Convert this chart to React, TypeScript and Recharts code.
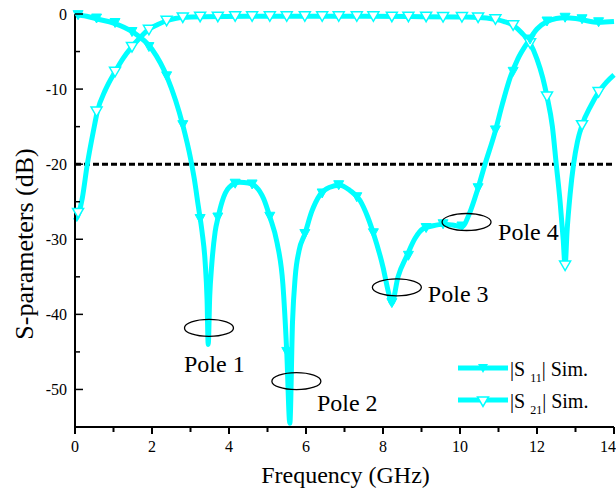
import React from 'react';
import { ComposedChart, Line, Scatter, XAxis, YAxis, ReferenceLine, ReferenceDot, Legend } from 'recharts';

const FONT = 'Liberation Serif, DejaVu Serif, serif';
const CYAN = '#00FFFF';
const TXT = { fontFamily: FONT } as React.CSSProperties;

// |S11| simulated curve
const s11Freq = [0, 0.3, 0.6, 1.0, 1.5, 2.0, 2.4, 2.8, 3.0, 3.1, 3.2, 3.3, 3.38, 3.43, 3.46, 3.5, 3.55, 3.64, 3.72, 3.82, 4.0, 4.28, 4.5, 4.7, 4.9, 5.06, 5.25, 5.4, 5.5, 5.58, 5.65, 5.72, 5.82, 5.97, 6.15, 6.36, 6.6, 6.88, 7.14, 7.4, 7.6, 7.75, 8.0, 8.13, 8.23, 8.39, 8.62, 8.83, 9.04, 9.3, 9.56, 9.8, 10.05, 10.25, 10.45, 10.65, 10.9, 11.1, 11.3, 11.5, 11.74, 12.0, 12.26, 12.5, 12.7, 13.0, 13.2, 13.6, 14.0];
const s11Db = [-0.1, -0.3, -0.7, -1.2, -2.4, -4.7, -8.5, -14.8, -19.2, -22, -25.5, -29, -33, -38, -44, -37.5, -33.5, -29, -27, -25, -23.1, -22.4, -22.5, -23.0, -24.6, -27, -30.5, -36, -45, -54.5, -41, -35, -31.5, -29.3, -26.3, -24.1, -23.1, -22.8, -23.5, -24.8, -27, -29.2, -33.7, -36.8, -38.5, -35, -32.2, -29.9, -28.6, -28.2, -28.0, -28.1, -28.3, -26.5, -23.5, -20, -15.9, -12, -8.5, -6, -3.9, -2.0, -1.0, -0.6, -0.5, -0.6, -0.8, -1.1, -1.0];

// |S21| simulated curve
const s21Freq = [0, 0.1, 0.19, 0.32, 0.5, 0.57, 0.8, 1.04, 1.25, 1.47, 1.7, 1.9, 2.15, 2.38, 2.6, 2.8, 3.3, 4.5, 6.0, 7.5, 9.0, 10.0, 10.5, 10.9, 11.15, 11.38, 11.6, 11.82, 12.0, 12.15, 12.26, 12.4, 12.5, 12.6, 12.68, 12.73, 12.78, 12.86, 12.95, 13.05, 13.17, 13.4, 13.6, 13.8, 14.0];
const s21Db = [-27.5, -26.5, -24.5, -20, -15, -13.2, -10, -7.7, -5.9, -4.4, -3.1, -2.1, -1.4, -0.9, -0.6, -0.45, -0.35, -0.3, -0.3, -0.3, -0.35, -0.4, -0.45, -0.7, -1.0, -1.5, -2.5, -3.9, -6, -8.5, -11, -15, -20, -25, -30, -33.5, -29, -24, -20, -17, -14.8, -12.2, -10.4, -9.1, -8.1];

// marker positions (symbols drawn on the curves)
const markFreq = [0.08, 0.56, 1.04, 1.48, 1.92, 2.38, 2.8, 3.25, 3.71, 4.16, 4.6, 5.06, 5.5, 5.97, 6.42, 6.85, 7.32, 7.75, 8.23, 8.66, 9.12, 9.56, 10.05, 10.47, 10.92, 11.38, 11.82, 12.26, 12.73, 13.17, 13.6];
const s11MarkDb = [-0.15, -0.6, -1.2, -2.4, -4.4, -8.3, -14.8, -27.3, -27.1, -22.6, -22.7, -27, -45, -29.3, -23.9, -22.8, -24.4, -29.2, -38.5, -32.2, -28.5, -28.0, -28.3, -23.2, -15.5, -7.7, -3.4, -1.0, -0.5, -0.7, -1.1];
const s21MarkDb = [-26.5, -13.0, -7.7, -4.4, -2.1, -0.9, -0.45, -0.35, -0.35, -0.3, -0.3, -0.3, -0.3, -0.3, -0.3, -0.3, -0.3, -0.3, -0.35, -0.35, -0.35, -0.4, -0.4, -0.45, -0.7, -1.5, -3.9, -11, -33.5, -14.8, -10.4];

const xTicks = [0, 1, 2, 3, 4, 5, 6, 7, 8, 9, 10, 11, 12, 13, 14];
const yTicks = [0, -5, -10, -15, -20, -25, -30, -35, -40, -45, -50];
const limitDb = -20;

const poleNames = ['Pole 1', 'Pole 2', 'Pole 3', 'Pole 4'];
const poleFreq = [3.48, 5.75, 8.36, 10.17];
const poleDb = [-41.8, -48.9, -36.4, -27.7];
// label offsets in px relative to ellipse center (styling)
const poleLabelOffset = [[-25, 44.5], [20.5, 29.5], [31, 15], [31.5, 17.5]];

const legendNames = ['11', '21'];

const toPts = (fs: number[], vs: number[]) => fs.map((f, i) => ({ f, v: vs[i] }));

const XTick = (p: any) => {
  const { x, y, payload } = p;
  const v = payload.value;
  const major = v % 2 === 0;
  const last = v === xTicks[xTicks.length - 1];
  return (
    <g>
      <line x1={x} x2={x} y1={y} y2={y + (major ? 7 : 5)} stroke="#000" strokeWidth={2} />
      {major && (
        <text x={last ? 616 : x} y={y + 25} textAnchor={last ? 'end' : 'middle'} fontSize={16} style={TXT} fill="#000">{v}</text>
      )}
    </g>
  );
};

const TopTick = (p: any) => {
  const { x, y } = p;
  return <line x1={x} x2={x} y1={y} y2={y - 5} stroke="#000" strokeWidth={1.5} />;
};

const LeftTick = (p: any) => {
  const { x, y, payload } = p;
  const v = payload.value;
  const major = v % 10 === 0;
  return (
    <g>
      <line x1={x} x2={x + (major ? 8 : 5)} y1={y} y2={y} stroke="#000" strokeWidth={1.5} />
      {major && (
        <text x={x - 8} y={y + 5.5} textAnchor="end" fontSize={16} style={TXT} fill="#000">{v}</text>
      )}
    </g>
  );
};

const RightTick = (p: any) => {
  const { x, y } = p;
  return <line x1={x} x2={x + 6} y1={y} y2={y} stroke="#000" strokeWidth={1.5} />;
};

const FilledTri = (p: any) => {
  const { cx, cy } = p;
  if (cx == null || cy == null) return <g />;
  return <polygon points={`${cx - 5},${cy - 4.5} ${cx + 5},${cy - 4.5} ${cx},${cy + 4.5}`} fill={CYAN} stroke={CYAN} strokeWidth={1} />;
};

const HollowTri = (p: any) => {
  const { cx, cy } = p;
  if (cx == null || cy == null) return <g />;
  return <polygon points={`${cx - 5.5},${cy - 4.5} ${cx + 5.5},${cy - 4.5} ${cx},${cy + 5}`} fill="#fff" stroke={CYAN} strokeWidth={1.5} />;
};

const LegendContent = () => (
  <svg width={616} height={491} style={{ position: 'absolute', left: 0, top: 0, overflow: 'visible' }}>
    {legendNames.map((n, i) => {
      const y = 368 + i * 32;
      return (
        <g key={n}>
          <line x1={458} x2={508} y1={y} y2={y} stroke={CYAN} strokeWidth={5} />
          {i === 0 ? (
            <polygon points={`478,${y - 4} 488,${y - 4} 483,${y + 5}`} fill={CYAN} />
          ) : (
            <polygon points={`477.5,${y - 3} 488.5,${y - 3} 483,${y + 6.5}`} fill="#fff" stroke={CYAN} strokeWidth={1.5} />
          )}
          <text x={510} y={y + 8} fontSize={20} style={TXT} fill="#000">
            |S
            <tspan dx={5} dy={6} fontSize={12}>{n}</tspan>
            <tspan dy={-6} fontSize={20}>| Sim.</tspan>
          </text>
        </g>
      );
    })}
  </svg>
);

export default function App() {
  const s11Line = toPts(s11Freq, s11Db);
  const s21Line = toPts(s21Freq, s21Db);
  const s11Marks = toPts(markFreq, s11MarkDb);
  const s21Marks = toPts(markFreq, s21MarkDb);

  return (
    <div style={{ position: 'absolute', left: 0, top: 0, width: 616, height: 491, background: '#fff' }}>
      <ComposedChart width={616} height={491} margin={{ top: 14, right: 2, bottom: 0, left: 0 }}>
        <XAxis
          xAxisId="b"
          dataKey="f"
          type="number"
          domain={[0, 14]}
          ticks={xTicks}
          interval={0}
          height={64}
          tickSize={0}
          tickMargin={0}
          tickLine={false}
          tick={<XTick />}
          axisLine={{ stroke: '#000', strokeWidth: 2 }}
          label={() => (
            <text x={345.5} y={483} textAnchor="middle" fontSize={24} style={TXT} fill="#000">Frequency (GHz)</text>
          )}
        />
        <XAxis
          xAxisId="t"
          orientation="top"
          type="number"
          domain={[0, 14]}
          ticks={xTicks}
          interval={0}
          height={0}
          tickSize={0}
          tickMargin={0}
          tickLine={false}
          tick={<TopTick />}
          axisLine={{ stroke: '#000', strokeWidth: 2 }}
        />
        <YAxis
          yAxisId="l"
          dataKey="v"
          type="number"
          domain={[-55, 0]}
          ticks={yTicks}
          interval={0}
          width={75}
          tickSize={0}
          tickMargin={0}
          tickLine={false}
          tick={<LeftTick />}
          axisLine={{ stroke: '#000', strokeWidth: 2 }}
          label={() => (
            <text x={33} y={244} transform="rotate(-90 33 244)" textAnchor="middle" fontSize={26} style={TXT} fill="#000">S-parameters (dB)</text>
          )}
        />
        <YAxis
          yAxisId="r"
          orientation="right"
          type="number"
          domain={[-55, 0]}
          ticks={yTicks}
          interval={0}
          width={0}
          tickSize={0}
          tickMargin={0}
          tickLine={false}
          tick={<RightTick />}
          axisLine={{ stroke: '#000', strokeWidth: 2 }}
        />
        <ReferenceLine xAxisId="b" yAxisId="l" y={limitDb} stroke="#000" strokeWidth={3} strokeDasharray="6 3" />
        <Line xAxisId="b" yAxisId="l" data={s21Line} dataKey="v" type="monotone" stroke={CYAN} strokeWidth={5} dot={false} activeDot={false} isAnimationActive={false} />
        <Line xAxisId="b" yAxisId="l" data={s11Line} dataKey="v" type="monotone" stroke={CYAN} strokeWidth={5} dot={false} activeDot={false} isAnimationActive={false} />
        <Scatter xAxisId="b" yAxisId="l" data={s21Marks} dataKey="v" shape={HollowTri} isAnimationActive={false} />
        <Scatter xAxisId="b" yAxisId="l" data={s11Marks} dataKey="v" shape={FilledTri} isAnimationActive={false} />
        {poleNames.map((name, i) => (
          <ReferenceDot
            key={name}
            xAxisId="b"
            yAxisId="l"
            x={poleFreq[i]}
            y={poleDb[i]}
            r={0}
            shape={(p: any) => (
              <g>
                <ellipse cx={p.cx} cy={p.cy} rx={24.5} ry={8.5} fill="none" stroke="#000" strokeWidth={1.3} />
                <text x={p.cx + poleLabelOffset[i][0]} y={p.cy + poleLabelOffset[i][1]} fontSize={24} style={TXT} fill="#000">{name}</text>
              </g>
            )}
          />
        ))}
        <Legend layout="horizontal" verticalAlign="middle" align="center" wrapperStyle={{ left: 0, top: 0, width: 616, height: 491, pointerEvents: 'none' }} content={LegendContent} />
      </ComposedChart>
    </div>
  );
}
